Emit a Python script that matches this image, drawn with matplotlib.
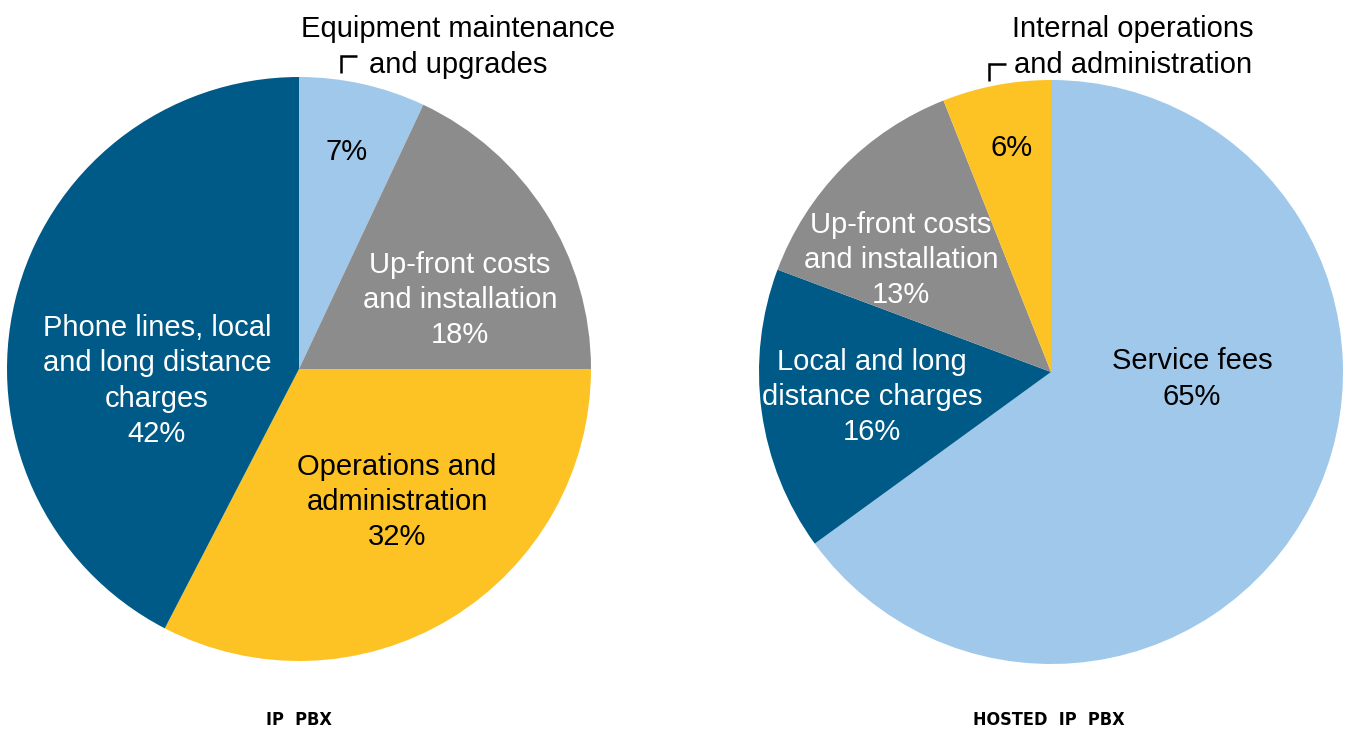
import matplotlib.pyplot as plt

plt.rcParams['font.family'] = ['Liberation Sans', 'DejaVu Sans']

# IP PBX cost split (clockwise from top)
ip_labels = ["Equipment maintenance\nand upgrades", "Up-front costs\nand installation",
             "Operations and\nadministration", "Phone lines, local\nand long distance\ncharges"]
ip_values = [7, 18, 32.6, 42.4]
ip_pct = ["7%", "18%", "32%", "42%"]

# Hosted IP PBX cost split (clockwise from top)
hosted_labels = ["Service fees", "Local and long\ndistance charges",
                 "Up-front costs\nand installation", "Internal operations\nand administration"]
hosted_values = [65, 15.7, 13.3, 6]
hosted_pct = ["65%", "16%", "13%", "6%"]

ip_colors = ["#9FC8EA", "#8C8C8C", "#FDC325", "#005A87"]
hosted_colors = ["#9FC8EA", "#005A87", "#8C8C8C", "#FDC325"]

W, H = 1346, 733
fig = plt.figure(figsize=(W / 100, H / 100), dpi=100)
ax = fig.add_axes([0, 0, 1, 1])

def py(y):
    return H - y

ax.pie(ip_values, colors=ip_colors, startangle=90, counterclock=False,
       center=(299, py(369)), radius=292, frame=True)
ax.pie(hosted_values, colors=hosted_colors, startangle=90, counterclock=False,
       center=(1051, py(372)), radius=292, frame=True)
ax.set_xlim(0, W)
ax.set_ylim(0, H)
ax.axis("off")

kw = dict(ha="center", va="center", fontsize=21, linespacing=1.32)

# left pie labels
ax.text(347, py(152), ip_pct[0], color="black", **kw)
ax.text(460, py(300), ip_labels[1] + "\n" + ip_pct[1], color="white", **kw)
ax.text(397, py(502), ip_labels[2] + "\n" + ip_pct[2], color="black", **kw)
ax.text(157, py(381), ip_labels[3] + "\n" + ip_pct[3], color="white", **kw)
ax.text(458, py(47), ip_labels[0], color="black", **kw)
ax.plot([341, 341, 357], [py(73), py(56), py(56)], color="black", lw=1.8,
        solid_capstyle="butt", solid_joinstyle="miter")

# right pie labels
ax.text(1192, py(379), hosted_labels[0] + "\n" + hosted_pct[0], color="black", **kw)
ax.text(872, py(397), hosted_labels[1] + "\n" + hosted_pct[1], color="white", **kw)
ax.text(901, py(260), hosted_labels[2] + "\n" + hosted_pct[2], color="white", **kw)
ax.text(1012, py(148), hosted_pct[3], color="black", **kw)
ax.text(1133, py(47), hosted_labels[3], color="black", **kw)
ax.plot([989, 989, 1006], [py(81), py(64), py(64)], color="black", lw=1.8,
        solid_capstyle="butt", solid_joinstyle="miter")

# titles under pies
tkw = dict(ha="center", va="center", fontsize=13, fontweight="bold",
           family="DejaVu Sans", fontstretch="condensed")
ax.text(299, py(720), "IP  PBX", **tkw)
ax.text(1049, py(720), "HOSTED  IP  PBX", **tkw)

fig.savefig("out.png", dpi=100)
